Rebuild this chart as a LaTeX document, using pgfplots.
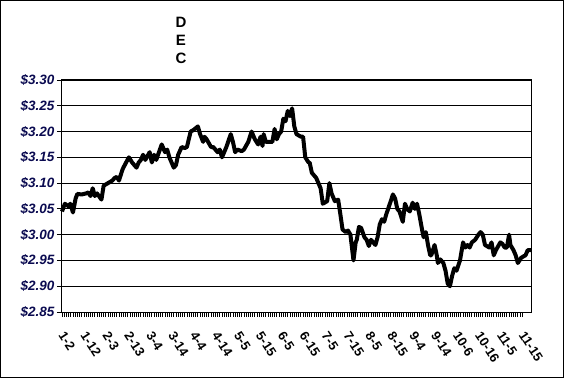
\documentclass[border=0pt]{standalone}
\usepackage{pgfplots}
\pgfplotsset{compat=1.18}
\usepackage{fontspec}
\setmainfont{Liberation Sans}
\definecolor{navyl}{RGB}{10,10,80}
\begin{document}
\begin{tikzpicture}
\begin{axis}[
  scale only axis,
  width=469bp, height=232bp,
  at={(0,0)}, anchor=south west,
  xmin=0, xmax=214,
  ymin=2.85, ymax=3.30,
  ytick={2.85,2.90,2.95,3.00,3.05,3.10,3.15,3.20,3.25,3.30},
  xtick={0,10,...,210},
  xticklabels={1-2,1-12,2-3,2-13,3-4,3-14,4-4,4-14,5-5,5-15,6-5,6-15,7-5,7-15,8-5,8-15,9-4,9-14,10-6,10-16,11-5,11-15},
  minor x tick num=9,
  tick align=outside,
  xtick align=outside, ytick align=outside,
  xtick pos=left, ytick pos=left,
  major tick length=5bp, minor tick length=4.5bp,
  tick style={black, line width=0.8bp},
  ymajorgrids,
  grid style={black, line width=0.8bp},
  axis line style={black, line width=1bp},
  yticklabel={\$\pgfmathprintnumber{\tick}},
  yticklabel style={/pgf/number format/.cd, fixed, fixed zerofill, precision=2, assume math mode=true, /tikz/.cd, font=\fontsize{13.5bp}{15bp}\selectfont\bfseries\itshape, text=navyl, xshift=1bp},
  xticklabel style={xshift=-2bp, yshift=-13bp, font=\fontsize{13bp}{14bp}\selectfont\bfseries, rotate=-57, anchor=west},
  clip=false,
]
\addplot[black, line width=4bp, line join=round, mark=none] table {
x y
0 3.045
1.3 3.06
3 3.055
3.8 3.06
5 3.043
6.2 3.07
7 3.079
9 3.078
11 3.08
12 3.082
13 3.075
14 3.09
15 3.075
16 3.08
18 3.068
19 3.095
21 3.10
23 3.105
24 3.11
25 3.112
26 3.105
27.5 3.125
28 3.13
30.5 3.15
32 3.14
34 3.13
35 3.14
36 3.145
37 3.155
38 3.145
40 3.16
41 3.14
42 3.155
43 3.145
45.5 3.175
47 3.16
48 3.165
49 3.15
51 3.13
52 3.135
53 3.155
54.6 3.17
56 3.168
57 3.17
58.7 3.20
60 3.203
62 3.21
63 3.195
64.4 3.18
65 3.19
66 3.185
68 3.17
69 3.17
70 3.165
71 3.16
72 3.165
73 3.15
74 3.16
75 3.17
77 3.195
78 3.18
79 3.16
80 3.165
82 3.162
83 3.165
85 3.18
86.5 3.20
88 3.185
89.5 3.175
90.6 3.19
91.5 3.172
92 3.195
93 3.18
95 3.18
96 3.18
97 3.205
98 3.185
99 3.195
100 3.20
101 3.225
102 3.22
103 3.24
104 3.23
105 3.245
106 3.21
107 3.195
109 3.19
110 3.19
111 3.15
112.5 3.14
113 3.14
114 3.12
116 3.11
117 3.10
118 3.09
119 3.06
121 3.065
122 3.10
123 3.08
124.5 3.065
126 3.068
127 3.04
128 3.01
129.5 3.005
130.5 3.008
131.6 3.00
133 2.95
134 2.985
134.5 2.99
135.5 3.015
136.5 3.013
138 2.995
139 2.99
140 2.978
141 2.99
142 2.985
143 2.98
144 2.995
145 3.02
146 3.03
147 3.025
148 3.04
150 3.065
151 3.078
152 3.07
153 3.05
154 3.045
155.5 3.025
156.5 3.06
157.5 3.05
158.7 3.045
160 3.062
161 3.05
162 3.06
163 3.04
164.5 3.005
165 2.995
166 3.005
167 2.98
168 2.96
168.5 2.96
170 2.98
171 2.96
171.5 2.945
172.6 2.952
174 2.945
175 2.93
176 2.905
177 2.90
178 2.92
179 2.935
180 2.93
181.6 2.95
183 2.985
184 2.975
185 2.98
186 2.975
187 2.985
188.5 2.99
190 3.00
191 3.005
192 3.00
193 2.98
195 2.975
196 2.985
197 2.96
198 2.97
200 2.985
201 2.982
202 2.975
203 2.975
204 3.00
204.6 2.98
206 2.97
207 2.96
208 2.945
209.5 2.955
210.6 2.958
211.5 2.96
212.5 2.97
214 2.97
};
\end{axis}
\node[font=\fontsize{15bp}{18bp}\selectfont\bfseries, align=center] at (119bp,272bp) {D\\E\\C};
\draw[black, line width=1bp] (-61.5bp,-65.5bp) rectangle (501.5bp,311.5bp);
\end{tikzpicture}
\end{document}
